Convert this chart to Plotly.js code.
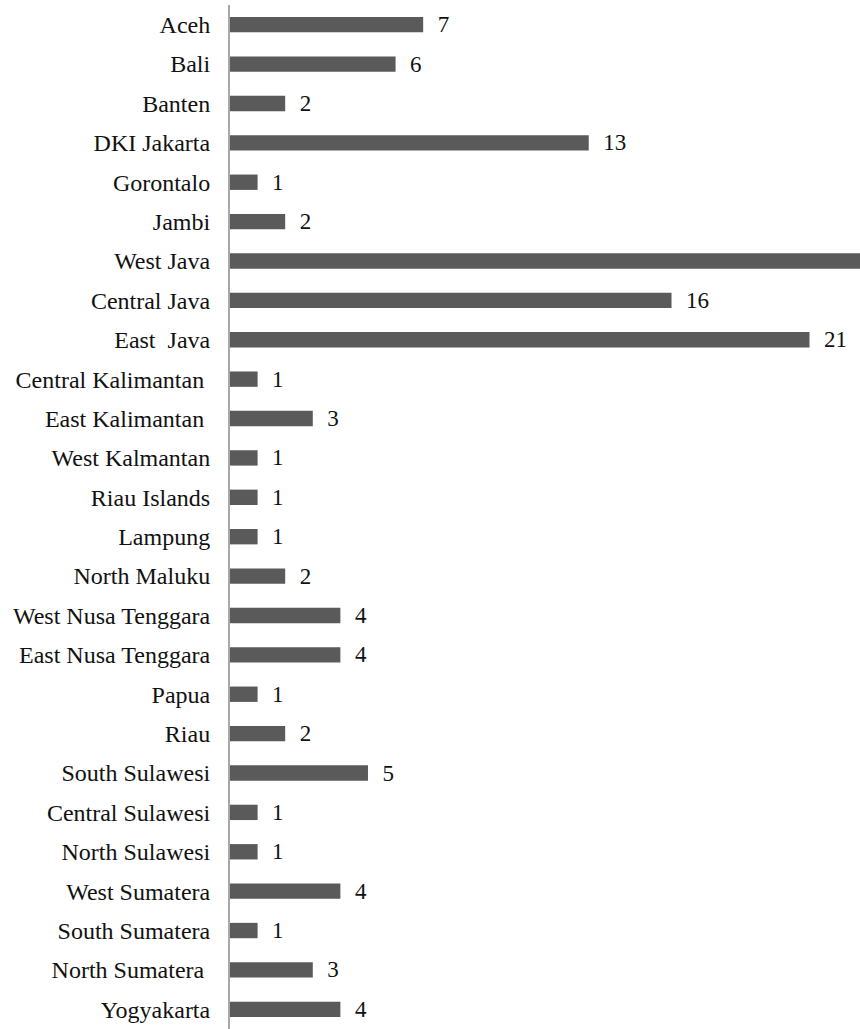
<!DOCTYPE html>
<html>
<head>
<meta charset="utf-8">
<script src="https://cdn.plot.ly/plotly-3.0.1.min.js"></script>
<style>html,body{margin:0;padding:0;background:#fff;}#chart{width:860px;height:1029px;}</style>
</head>
<body>
<div id="chart"></div>
<script>
const provinces = ["Aceh","Bali","Banten","DKI Jakarta","Gorontalo","Jambi","West Java","Central Java","East\u00a0 Java","Central Kalimantan\u00a0","East Kalimantan\u00a0","West Kalmantan","Riau Islands","Lampung","North Maluku","West Nusa Tenggara","East Nusa Tenggara","Papua","Riau","South Sulawesi","Central Sulawesi","North Sulawesi","West Sumatera","South Sumatera","North Sumatera\u00a0","Yogyakarta"];
const counts = [7,6,2,13,1,2,24,16,21,1,3,1,1,1,2,4,4,1,2,5,1,1,4,1,3,4];
const xMax = 22.83;
// the West Java bar runs past the right edge in the source, so its label is not visible there
const valueLabels = counts.map(v => v > xMax ? "" : "\u00a0\u00a0" + v);

const trace = {
  type: "bar",
  orientation: "h",
  y: provinces,
  x: counts,
  text: valueLabels,
  textposition: "outside",
  constraintext: "none",
  cliponaxis: true,
  textfont: {family: "Liberation Serif", size: 23, color: "#111"},
  marker: {color: "#5a5a5a", line: {width: 0}},
  width: 0.39,
  hoverinfo: "none"
};

const layout = {
  width: 860, height: 1029,
  margin: {l: 230, r: 0, t: 5, b: 0},
  paper_bgcolor: "#fff", plot_bgcolor: "#fff",
  showlegend: false,
  xaxis: {range: [0, xMax], visible: false, fixedrange: true},
  yaxis: {
    autorange: "reversed",
    showline: true, linecolor: "#a8a8a8", linewidth: 2,
    ticks: "", showgrid: false, zeroline: false,
    ticklabelstandoff: 13,
    tickfont: {family: "Liberation Serif", size: 24, color: "#111"}
  },
  font: {family: "Liberation Serif"}
};

Plotly.newPlot("chart", [trace], layout, {staticPlot: true, displayModeBar: false});
</script>
</body>
</html>
